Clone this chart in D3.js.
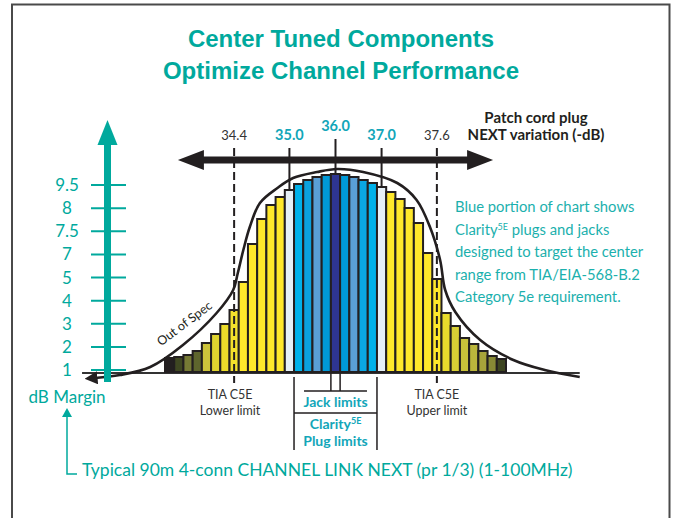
<!DOCTYPE html>
<html>
<head>
<meta charset="utf-8">
<script src="https://cdn.jsdelivr.net/npm/d3@7"></script>
<style>
  body { margin: 0; background: #fff; }
  svg { display: block; font-family: Lato, "Open Sans", sans-serif; }
</style>
</head>
<body>
<svg id="chart" width="675" height="518"></svg>
<script>
// histogram of channel margin, one bar per plug NEXT bin (relative height)
var values = [14, 15, 17, 21, 29, 38, 48, 62, 90, 128, 153, 167, 175, 182, 188, 192, 195, 197, 198,
              197, 195, 192, 189, 185, 180, 173, 164, 149, 119, 93, 59, 46, 34, 28, 21, 16, 13];
var barColors = ["#231f20", "#3f4722", "#767a35", "#5e652d", "#cdc43b", "#dfd32f", "#ecdc2a", "#f5e22c",
                 "#ffe82b", "#ffe82b", "#ffe82b", "#ffe82b", "#ffe82b", "#e6f0f7",
                 "#00b1ea", "#0ba1de", "#5a9fd6", "#0099d7", "#2e3591", "#0099d7", "#5a9fd6", "#0aa7e3", "#00b1ea",
                 "#e6f0f7", "#ffe82b", "#ffe82b", "#ffe82b", "#ffe82b", "#ffe82b", "#ffe82b",
                 "#e8db2c", "#d8cf35", "#c9c23a", "#bbb63c", "#a7a33a", "#888a35", "#3d4520"];

// patch cord plug NEXT markers (label, bar it sits on, kind)
var markerLabels = ["34.4", "35.0", "36.0", "37.0", "37.6"];
var markerBars = [7, 13, 18, 23, 29];
var markerKinds = ["limit", "plug", "center", "plug", "limit"];

// dB margin axis ticks (evenly spaced, not linear)
var marginTicks = ["1", "2", "3", "4", "5", "7", "7.5", "8", "9.5"];

// bell curve, in bar units / relative height
var curveU = [-7.6, -4.9, -1.6, 1.95, 5.6, 7.4, 7.9, 8.5, 9.2, 10.3, 12.2, 13.9, 16.5, 18.7,
              21.5, 25.2, 27.3, 28.75, 29.85, 30.4, 31.5, 34.2, 37.8, 41.2, 45.0];
var curveV = [-6, -3, 5, 27, 59, 82, 99, 122, 145, 169, 184, 194, 200, 203,
              200, 189, 172, 145, 112, 82, 60, 32, 12, 2, -5];

var rightNote = ["Blue portion of chart shows", "Clarity", "designed to target the center",
                 "range from TIA/EIA-568-B.2", "Category 5e requirement."];

var teal = "#00a99d", cyan = "#12a6b9", ink = "#231f20", grey = "#333";

var svg = d3.select("#chart");

// frame
svg.append("path")
  .attr("d", "M12,518V4.5H669.5V518")
  .attr("fill", "none").attr("stroke", "#4a4a4a").attr("stroke-width", 2);

// title
svg.append("g").selectAll("text")
  .data(["Center Tuned Components", "Optimize Channel Performance"])
  .join("text")
  .attr("x", 341).attr("y", (d, i) => 47 + i * 32)
  .attr("text-anchor", "middle")
  .style("font-family", "'Liberation Sans', Arial, sans-serif")
  .style("font-weight", "bold").style("font-size", "24px")
  .attr("fill", teal)
  .text(d => d);

var x = d3.scaleBand().domain(values.map((d, i) => i)).range([165, 506]);
var u = d3.scaleLinear().domain([0, values.length]).range([165, 506]);
var y = d3.scaleLinear().domain([0, 200]).range([372, 172]);
var bw = x.bandwidth();

// baseline
svg.append("line")
  .attr("x1", u(-9)).attr("x2", u(45)).attr("y1", y(0) + 1).attr("y2", y(0) + 1)
  .attr("stroke", grey).attr("stroke-width", 2);

// bars
svg.append("g").selectAll("rect")
  .data(values)
  .join("rect")
  .attr("x", (d, i) => x(i))
  .attr("y", d => y(d))
  .attr("width", bw)
  .attr("height", d => y(0) - y(d))
  .attr("fill", (d, i) => barColors[i])
  .attr("stroke", ink)
  .attr("stroke-width", 2);

// marker lines
var markers = markerLabels.map((l, i) => ({label: l, bar: markerBars[i], kind: markerKinds[i]}));
var mg = svg.append("g");
mg.selectAll("line")
  .data(markers)
  .join("line")
  .attr("x1", d => x(d.bar) + bw / 2).attr("x2", d => x(d.bar) + bw / 2)
  .attr("y1", d => d.kind == "center" ? 139 : 148)
  .attr("y2", d => d.kind == "limit" ? y(0) + 11 : y(values[d.bar]))
  .attr("stroke", ink).attr("stroke-width", 2)
  .attr("stroke-dasharray", d => d.kind == "limit" ? "8,4" : null);
mg.selectAll("text")
  .data(markers)
  .join("text")
  .attr("x", d => x(d.bar) + bw / 2)
  .attr("y", d => d.kind == "center" ? 131 : 140)
  .attr("text-anchor", "middle")
  .style("font-size", d => d.kind == "limit" ? "13px" : "14.5px")
  .style("font-weight", d => d.kind == "limit" ? "normal" : "bold")
  .attr("fill", d => d.kind == "limit" ? grey : cyan)
  .text(d => d.label);

// horizontal double arrow
var ay = 160, al = u(1.4), ar = u(35.6);
svg.append("line").attr("x1", al + 20).attr("x2", ar - 20).attr("y1", ay).attr("y2", ay)
  .attr("stroke", ink).attr("stroke-width", 7);
svg.append("path")
  .attr("d", "M" + al + "," + ay + "L" + (al + 26) + "," + (ay - 10) + "L" + (al + 26) + "," + (ay + 10) + "Z" +
             "M" + ar + "," + ay + "L" + (ar - 26) + "," + (ay - 10) + "L" + (ar - 26) + "," + (ay + 10) + "Z")
  .attr("fill", ink);

svg.append("g").selectAll("text")
  .data(["Patch cord plug", "NEXT variation (-dB)"])
  .join("text")
  .attr("x", 536).attr("y", (d, i) => 123 + i * 17)
  .attr("text-anchor", "middle")
  .style("font-weight", "bold").style("font-size", "15px")
  .attr("fill", ink)
  .text(d => d);

// bell curve
var defs = svg.append("defs");
defs.append("marker").attr("id", "head")
  .attr("viewBox", "0 0 10 10").attr("refX", 2).attr("refY", 5)
  .attr("markerWidth", 5).attr("markerHeight", 5)
  .attr("orient", "auto-start-reverse")
  .append("path").attr("d", "M0,0L10,5L0,10Z").attr("fill", ink);

var line = d3.line().x(d => u(d[0])).y(d => y(d[1])).curve(d3.curveCatmullRom);
svg.append("path")
  .datum(curveU.map((c, i) => [c, curveV[i]]))
  .attr("d", line)
  .attr("fill", "none").attr("stroke", ink).attr("stroke-width", 2.6)
  .attr("marker-start", "url(#head)");

svg.append("text")
  .attr("transform", "translate(187,327) rotate(-37)")
  .attr("text-anchor", "middle")
  .style("font-size", "12.5px").attr("fill", ink)
  .text("Out of Spec");

// dB margin axis
var ym = d3.scalePoint().domain(marginTicks).range([370, 185]);
svg.append("rect").attr("x", 104).attr("y", 143).attr("width", 7).attr("height", 239).attr("fill", teal);
svg.append("path").attr("d", "M97.5,145L107.5,120L117.5,145Z").attr("fill", teal);
var ag = svg.append("g");
ag.selectAll("line")
  .data(marginTicks)
  .join("line")
  .attr("x1", 91).attr("x2", 126)
  .attr("y1", d => ym(d)).attr("y2", d => ym(d))
  .attr("stroke", teal).attr("stroke-width", 2);
ag.selectAll("text")
  .data(marginTicks)
  .join("text")
  .attr("x", 67).attr("y", d => ym(d) + 6)
  .attr("text-anchor", "middle")
  .style("font-size", "17px").attr("fill", teal)
  .text(d => d);

svg.append("text").attr("x", 67).attr("y", 403).attr("text-anchor", "middle")
  .style("font-size", "17px").attr("fill", teal).text("dB Margin");
svg.append("path").attr("d", "M62,417L67,408L72,417Z").attr("fill", teal);
svg.append("path").attr("d", "M67,416V474H77").attr("fill", "none")
  .attr("stroke", teal).attr("stroke-width", 1.5);
svg.append("text").attr("x", 82).attr("y", 476)
  .style("font-size", "17.5px").attr("fill", teal)
  .text("Typical 90m 4-conn CHANNEL LINK NEXT (pr 1/3) (1-100MHz)");

// TIA limit labels
var lim = markers.filter(d => d.kind == "limit");
var tg = svg.append("g");
[["TIA C5E", "Lower limit"], ["TIA C5E", "Upper limit"]].forEach(function(t, k) {
  t.forEach(function(s, j) {
    tg.append("text")
      .attr("x", x(lim[k].bar) + bw / 2 - 4 * (1 - k)).attr("y", 399 + j * 16)
      .attr("text-anchor", "middle")
      .style("font-size", "12.5px").attr("fill", grey)
      .text(s);
  });
});

// jack / plug limit bracket
var plugL = x(14), plugR = x(23), jackL = x(18), jackR = x(19);
var bg = svg.append("g").attr("stroke", ink).attr("stroke-width", 1.5).attr("fill", "none");
bg.append("path").attr("d", "M" + plugL + ",377V450M" + plugR + ",377V450M" + plugL + ",413H" + plugR);
bg.append("path").attr("d", "M" + jackL + ",373V391M" + jackR + ",373V391M" + (plugL + 10) + ",391H" + (plugR - 10));

var mid = (plugL + plugR) / 2;
svg.append("text").attr("x", mid).attr("y", 407).attr("text-anchor", "middle")
  .style("font-weight", "bold").style("font-size", "14px").attr("fill", cyan).text("Jack limits");
var cl = svg.append("text").attr("x", mid).attr("y", 429).attr("text-anchor", "middle")
  .style("font-weight", "bold").style("font-size", "14px").attr("fill", cyan);
cl.append("tspan").text("Clarity");
cl.append("tspan").attr("dy", -5).style("font-size", "9px").text("5E");
svg.append("text").attr("x", mid).attr("y", 446).attr("text-anchor", "middle")
  .style("font-weight", "bold").style("font-size", "14px").attr("fill", cyan).text("Plug limits");

// note on the right
var ng = svg.append("g").style("font-size", "14.8px").attr("fill", "#1bb0ad");
rightNote.forEach(function(s, i) {
  var t = ng.append("text").attr("x", 455).attr("y", 212 + i * 22.6).text(s);
  if (i == 1) {
    t.append("tspan").attr("dy", -5).style("font-size", "9px").text("5E");
    t.append("tspan").attr("dy", 5).text(" plugs and jacks");
  }
});
</script>
</body>
</html>
